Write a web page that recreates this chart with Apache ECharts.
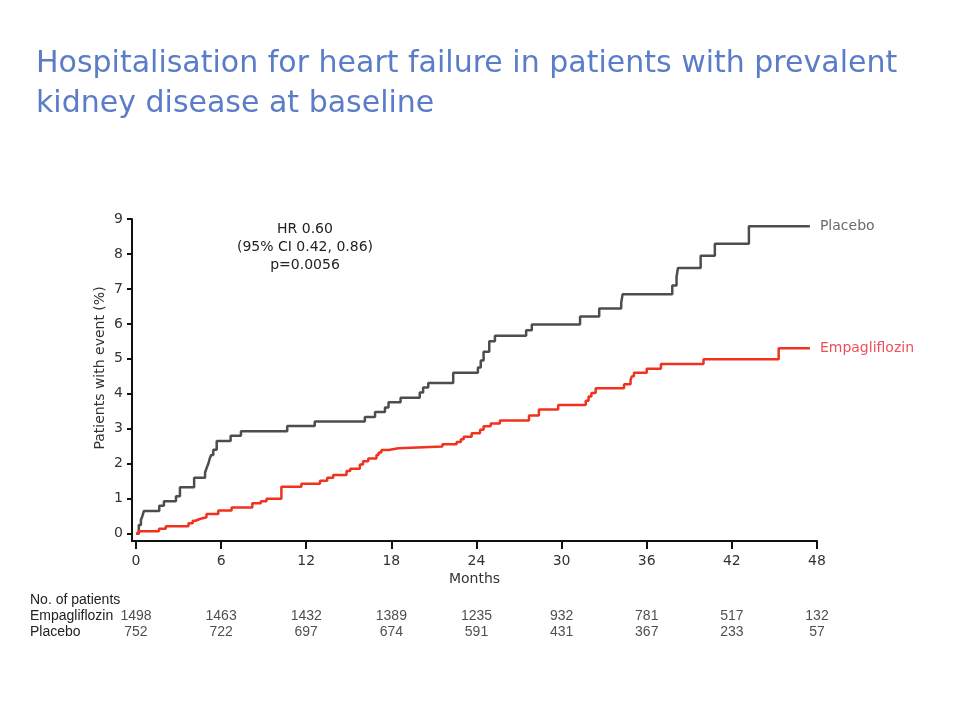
<!DOCTYPE html>
<html>
<head>
<meta charset="utf-8">
<script src="https://cdn.jsdelivr.net/npm/echarts@6/dist/echarts.min.js"></script>
<style>
  html, body { margin: 0; padding: 0; background: #fff; }
  #chart { width: 960px; height: 720px; }
</style>
</head>
<body>
<div id="chart"></div>
<script>
// ---- Data ----
const xTicks = [0, 6, 12, 18, 24, 30, 36, 42, 48];
const yTicks = [0, 1, 2, 3, 4, 5, 6, 7, 8, 9];

const placeboMonths = [0,0.2,0.35,0.45,0.56,1.64,1.97,2.82,3.1,4.1,4.87,5.0,5.1,5.2,5.3,5.45,5.69,6.67,7.4,10.66,12.6,16.13,16.85,17.55,17.8,18.65,20.0,20.24,20.6,22.36,24.1,24.3,24.5,24.9,25.3,27.5,27.9,31.3,32.65,34.2,34.3,37.8,38.1,38.2,39.8,40.8,43.2,47.5];
const placeboPct    = [0,0.25,0.4,0.5,0.65,0.8,0.93,1.07,1.33,1.6,1.75,1.9,2.0,2.15,2.25,2.4,2.65,2.8,2.93,3.08,3.21,3.34,3.48,3.61,3.76,3.89,4.04,4.18,4.31,4.6,4.75,4.95,5.2,5.5,5.66,5.82,5.98,6.21,6.44,6.6,6.85,7.1,7.35,7.6,7.95,8.29,8.79,8.79];

const empaMonths = [0,0.17,1.62,2.1,3.7,4.0,4.2,4.5,4.97,5.8,6.74,8.2,8.8,9.2,10.25,11.66,12.97,13.48,13.9,14.84,15.1,15.78,16.0,16.37,16.95,17.1,17.3,17.8,18.5,21.6,22.6,22.9,23.1,23.66,24.25,24.5,25.0,25.65,27.7,28.4,29.76,31.7,31.9,32.1,32.4,34.4,34.86,34.95,35.1,36.0,37.0,40.0,45.3,47.5];
const empaPct    = [0,0.07,0.14,0.21,0.3,0.37,0.42,0.47,0.56,0.66,0.75,0.87,0.93,1.0,1.34,1.43,1.51,1.6,1.68,1.79,1.86,1.98,2.07,2.15,2.25,2.32,2.39,2.44,2.49,2.56,2.62,2.7,2.77,2.87,2.97,3.07,3.15,3.24,3.38,3.55,3.68,3.8,3.92,4.02,4.16,4.27,4.4,4.5,4.6,4.72,4.85,4.99,5.3,5.3];

const riskGroups = ['Empagliflozin', 'Placebo'];
const riskEmpa    = [1498, 1463, 1432, 1389, 1235, 932, 781, 517, 132];
const riskPlacebo = [752, 722, 697, 674, 591, 431, 367, 233, 57];

// ---- Chart ----
const FONT = '"DejaVu Sans", "Open Sans", sans-serif';
const NUMFONT = '"Liberation Sans Narrow", "Liberation Sans", sans-serif';
const chart = echarts.init(document.getElementById('chart'), null, { renderer: 'canvas' });

const zip = (a, b) => a.map((t, i) => [t, b[i]]);

const riskData = [];
riskEmpa.forEach((n, i) => riskData.push([xTicks[i], riskGroups[0], n]));
riskPlacebo.forEach((n, i) => riskData.push([xTicks[i], riskGroups[1], n]));

chart.setOption({
  animation: false,
  backgroundColor: '#ffffff',
  title: {
    text: 'Hospitalisation for heart failure in patients with prevalent\nkidney disease at baseline',
    left: 36, top: 44, padding: 0,
    textStyle: { color: '#5b7dc8', fontSize: 30, fontWeight: 'normal', fontFamily: FONT, lineHeight: 40 }
  },
  grid: [
    { left: 132, right: 143, top: 219, bottom: 179 },
    { left: 132, right: 143, top: 608, height: 32 }
  ],
  xAxis: [
    {
      gridIndex: 0, type: 'value', min: -0.28, max: 48,
      name: 'Months', nameLocation: 'middle', nameGap: 31,
      nameTextStyle: { color: '#333', fontSize: 14, fontFamily: FONT },
      axisLine: { show: true, onZero: false, lineStyle: { color: '#111', width: 2 } },
      axisTick: { show: true, length: 8, customValues: xTicks, lineStyle: { color: '#111', width: 2 } },
      axisLabel: { customValues: xTicks, color: '#333', fontSize: 14, fontFamily: FONT, margin: 13 },
      splitLine: { show: false }
    },
    {
      gridIndex: 1, type: 'value', min: -0.28, max: 48, show: false
    }
  ],
  yAxis: [
    {
      gridIndex: 0, type: 'value', min: -0.21, max: 9,
      axisLine: { show: true, onZero: false, lineStyle: { color: '#111', width: 2 } },
      axisTick: { show: true, length: 5, customValues: yTicks, lineStyle: { color: '#111', width: 2 } },
      axisLabel: { customValues: yTicks, color: '#333', fontSize: 14, fontFamily: FONT, margin: 9 },
      splitLine: { show: false }
    },
    {
      gridIndex: 1, type: 'category', data: riskGroups, inverse: true,
      axisLine: { show: false }, axisTick: { show: false }, splitLine: { show: false },
      axisLabel: { interval: 0, align: 'left', margin: 102, color: '#222', fontSize: 14, fontFamily: NUMFONT }
    }
  ],
  series: [
    {
      name: 'Placebo', type: 'line', step: 'end', xAxisIndex: 0, yAxisIndex: 0,
      data: zip(placeboMonths, placeboPct), symbol: 'none',
      lineStyle: { color: '#4d4d4d', width: 2.5 },
      endLabel: { show: true, formatter: '{a}', distance: 10, color: '#6a6a6a', fontSize: 14, fontFamily: FONT }
    },
    {
      name: 'Empagliflozin', type: 'line', step: 'end', xAxisIndex: 0, yAxisIndex: 0,
      data: zip(empaMonths, empaPct), symbol: 'none',
      lineStyle: { color: '#f0321e', width: 2.5 },
      endLabel: { show: true, formatter: '{a}', distance: 10, color: '#f04f5a', fontSize: 14, fontFamily: FONT }
    },
    {
      name: 'risk', type: 'scatter', xAxisIndex: 1, yAxisIndex: 1,
      data: riskData, symbolSize: 0, silent: true,
      label: {
        show: true, position: 'inside', formatter: p => String(p.value[2]),
        color: '#222', fontSize: 14, fontFamily: NUMFONT
      }
    }
  ],
  graphic: [
    {
      type: 'text', left: 30, top: 593,
      style: { text: 'No. of patients', fill: '#222', font: '14px ' + NUMFONT }
    },
    {
      type: 'text', x: 100, y: 368, rotation: Math.PI / 2,
      style: { text: 'Patients with event (%)', fill: '#333', font: '14px ' + FONT, align: 'center', verticalAlign: 'middle' }
    },
    {
      type: 'text', x: 305, y: 220,
      style: {
        text: 'HR 0.60\n(95% CI 0.42, 0.86)\np=0.0056', fill: '#222',
        font: '14px ' + FONT, align: 'center', verticalAlign: 'top', lineHeight: 18
      }
    }
  ]
});
</script>
</body>
</html>
